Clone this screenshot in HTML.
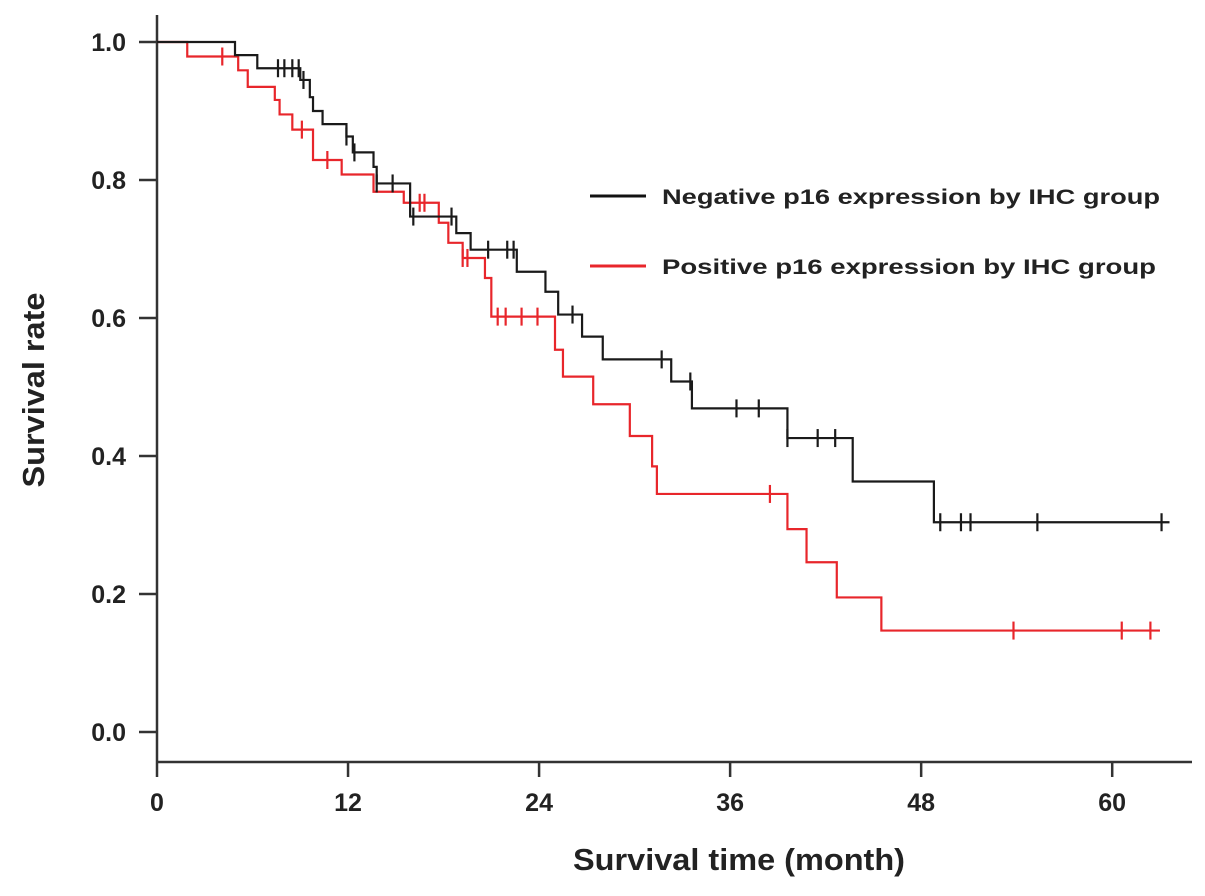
<!DOCTYPE html>
<html><head><meta charset="utf-8"><style>
html,body{margin:0;padding:0;background:#fff;width:1205px;height:896px;overflow:hidden}
text{font-family:"Liberation Sans",Arial,sans-serif;font-weight:bold;fill:#222}
</style></head><body>
<svg id="chart" width="1205" height="896" viewBox="0 0 1205 896" xmlns="http://www.w3.org/2000/svg">
<g id="axes"></g>
<g id="series"></g>
<text x="0" y="0" transform="translate(44,390) rotate(-90)" text-anchor="middle" font-size="31" textLength="195" lengthAdjust="spacingAndGlyphs">Survival rate</text>
<text x="739" y="870" text-anchor="middle" font-size="31" textLength="332" lengthAdjust="spacingAndGlyphs">Survival time (month)</text>
<g>
<line x1="590" y1="196" x2="646" y2="196" stroke="#111" stroke-width="3"/>
<text x="662" y="204" font-size="21" textLength="498" lengthAdjust="spacingAndGlyphs">Negative p16 expression by IHC group</text>
<line x1="590" y1="266" x2="646" y2="266" stroke="#e8262b" stroke-width="3"/>
<text x="662" y="274" font-size="21" textLength="494" lengthAdjust="spacingAndGlyphs">Positive p16 expression by IHC group</text>
</g>
</svg>
<script>
const xTicks = [0, 12, 24, 36, 48, 60];
const yTicks = [0.0, 0.2, 0.4, 0.6, 0.8, 1.0];
const yTickLabels = ["0.0", "0.2", "0.4", "0.6", "0.8", "1.0"];
const negTimes = [4.9, 6.3, 9.0, 9.6, 9.8, 10.4, 11.9, 12.3, 13.6, 13.8, 15.9, 18.8, 19.7, 22.6, 24.4, 25.2, 26.7, 28.0, 32.3, 33.6, 39.6, 43.7, 48.8];
const negSurv = [0.981, 0.962, 0.945, 0.92, 0.90, 0.881, 0.863, 0.84, 0.819, 0.795, 0.747, 0.723, 0.699, 0.667, 0.638, 0.605, 0.573, 0.540, 0.508, 0.469, 0.426, 0.363, 0.304];
const negCensor = [7.6, 8.0, 8.5, 8.9, 9.2, 11.9, 12.4, 13.8, 14.8, 16.1, 18.5, 20.8, 22.0, 22.4, 26.1, 31.7, 33.5, 36.4, 37.8, 39.6, 41.5, 42.6, 49.2, 50.5, 51.1, 55.3, 63.1];
const negEnd = 63.6;
const posTimes = [1.9, 5.1, 5.7, 7.4, 7.7, 8.5, 9.8, 11.6, 13.6, 15.5, 17.7, 18.3, 19.2, 20.6, 21.0, 25.0, 25.5, 27.4, 29.7, 31.1, 31.4, 39.6, 40.8, 42.7, 45.5];
const posSurv = [0.979, 0.959, 0.935, 0.916, 0.895, 0.873, 0.829, 0.808, 0.783, 0.767, 0.738, 0.709, 0.687, 0.658, 0.602, 0.554, 0.515, 0.475, 0.429, 0.385, 0.345, 0.294, 0.246, 0.195, 0.147];
const posCensor = [4.1, 9.1, 10.7, 16.5, 16.8, 19.2, 19.5, 21.4, 21.9, 22.9, 23.9, 38.5, 53.8, 60.6, 62.4];
const posEnd = 63.0;

const NS = "http://www.w3.org/2000/svg";
const X0 = 157, PXM = 15.92, Y0 = 732, PXY = 690;
function xs(t){ return X0 + t * PXM; }
function ys(v){ return Y0 - v * PXY; }
function mk(tag, attrs, parent){
  const e = document.createElementNS(NS, tag);
  for (const k in attrs) e.setAttribute(k, attrs[k]);
  parent.appendChild(e); return e;
}
const axes = document.getElementById('axes');
let a = mk('line', {x1:X0, y1:15, x2:X0, y2:762, stroke:'#333', 'stroke-width':2.5}, axes);


a = mk('line', {x1:X0, y1:762, x2:1192, y2:762, stroke:'#333', 'stroke-width':2.5}, axes);


xTicks.forEach((t) => {
  const l = mk('line', {x1:xs(t), y1:762, x2:xs(t), y2:777, stroke:'#333', 'stroke-width':2.5}, axes);
  
  
  const tx = mk('text', {x:xs(t), y:811, 'text-anchor':'middle', 'font-size':25}, axes);
  tx.textContent = String(t);
  
  
});
yTicks.forEach((v, i) => {
  const l = mk('line', {x1:139, y1:ys(v), x2:X0, y2:ys(v), stroke:'#333', 'stroke-width':2.5}, axes);
  
  
  const tx = mk('text', {x:126, y:ys(v)+9, 'text-anchor':'end', 'font-size':25}, axes);
  tx.textContent = yTickLabels[i];
  
  
});
const series = document.getElementById('series');
function drawCurve(times, surv, censor, end, color, name){
  let d = 'M' + xs(0) + ',' + ys(1);
  times.forEach((t, i) => { d += ' H' + xs(t) + ' V' + ys(surv[i]); });
  d += ' H' + xs(end);
  const p = mk('path', {d:d, fill:'none', stroke:color, 'stroke-width':2.2}, series);
  
  
  censor.forEach((c) => {
    let v = 1;
    times.forEach((t, i) => { if (t <= c) v = surv[i]; });
    const l = mk('line', {x1:xs(c), y1:ys(v)-9, x2:xs(c), y2:ys(v)+9, stroke:color, 'stroke-width':2.2}, series);
    
    
  });
}
drawCurve(posTimes, posSurv, posCensor, posEnd, '#e8262b', 'positive');
drawCurve(negTimes, negSurv, negCensor, negEnd, '#1a1a1a', 'negative');
</script>
</body></html>
